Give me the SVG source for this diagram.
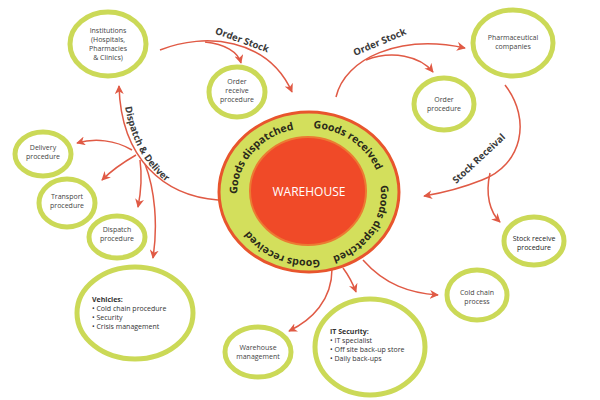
<svg xmlns="http://www.w3.org/2000/svg" width="600" height="400" viewBox="0 0 600 400">
<style>
.node ellipse{fill:#fff;stroke:#cbd957;stroke-width:5}
.t{font-family:"Open Sans","Liberation Sans",sans-serif;font-size:7px;fill:#444;text-anchor:middle}
.tl{font-family:"Open Sans","Liberation Sans",sans-serif;font-size:7px;fill:#333}
.b{font-weight:bold}
.lab{font-family:"Open Sans","Liberation Sans",sans-serif;font-size:9.5px;font-weight:bold;fill:#3a3a3a;text-anchor:middle}
.ring{font-family:"Open Sans","Liberation Sans",sans-serif;font-size:10.5px;font-weight:bold;fill:#2a2a1a}
.c path{fill:none;stroke:#e05a45;stroke-width:1.5;marker-end:url(#ah)}
</style>
<defs>
<marker id="ah" viewBox="0 0 10 10" refX="9" refY="5" markerWidth="9" markerHeight="9" markerUnits="userSpaceOnUse" orient="auto">
<path d="M0,0 L10,5 L0,10 L3,5 z" fill="#e05a45"/>
</marker>
<path id="ringp" d="M 237,194 A 72,66 0 1,1 381,194 A 72,66 0 1,1 237,194"/>
<path id="ddp" d="M 125,107 C 131,140 146,170 173,186"/>
</defs>

<g class="c" id="connectors">
<path d="M160,50 C 205,32 268,38 292,92"/>
<path d="M205,42 C 225,44 238,52 241,63"/>
<path d="M336,97 C 345,58 400,34 465,48"/>
<path d="M366,60 C 392,50 420,56 433,72"/>
<path d="M505,85 C 532,120 522,165 482,180 C 462,188 442,193 424,196"/>
<path d="M490,173 C 485,195 490,212 500,222"/>
<path d="M218,200 C 165,196 121,160 119,86"/>
<path d="M132,150 C 115,140 95,138 77,143"/>
<path d="M136,155 C 122,163 110,172 102,180"/>
<path d="M140,160 C 142,175 141,192 138,207"/>
<path d="M145,164 C 155,190 158,225 153,258"/>
<path d="M332,269 C 332,300 312,320 289,331"/>
<path d="M343,268 C 349,276 353,284 356,292"/>
<path d="M363,260 C 385,285 410,293 438,295"/>
</g>

<g id="labels">
<text class="lab" transform="translate(241,43) rotate(20)">Order Stock</text>
<text class="lab" transform="translate(381,45) rotate(-23)">Order Stock</text>
<text class="lab" transform="translate(481,161) rotate(-43)">Stock Receival</text>
<text class="lab" style="text-anchor:start"><textPath href="#ddp">Dispatch &amp; Deliver</textPath></text>
</g>

<g id="warehouse">
<ellipse cx="309" cy="192" rx="90" ry="80" fill="#d3df5c" stroke="#e8552d" stroke-width="3"/>
<ellipse cx="308" cy="191" rx="58" ry="54" fill="#f04a28" stroke="#ec7a32" stroke-width="2"/>
<text x="309" y="196" style="font-family:'Open Sans','Liberation Sans',sans-serif;font-size:12px;fill:#fff;text-anchor:middle">WAREHOUSE</text>
<text class="ring"><textPath href="#ringp" startOffset="0%">Goods dispatched</textPath></text>
<text class="ring"><textPath href="#ringp" startOffset="26%">Goods received</textPath></text>
<text class="ring"><textPath href="#ringp" startOffset="48%">Goods dispatched</textPath></text>
<text class="ring"><textPath href="#ringp" startOffset="72.5%">Goods received</textPath></text>
</g>

<g class="node" id="institutions"><ellipse cx="108" cy="44" rx="38" ry="32"/>
<text class="t"><tspan x="108" y="33">Institutions</tspan><tspan x="108" y="42">(Hospitals,</tspan><tspan x="108" y="51">Pharmacies</tspan><tspan x="108" y="60">&amp; Clinics)</tspan></text></g>

<g class="node" id="order-receive"><ellipse cx="237" cy="92" rx="28" ry="25"/>
<text class="t"><tspan x="237" y="84">Order</tspan><tspan x="237" y="93">receive</tspan><tspan x="237" y="102">procedure</tspan></text></g>

<g class="node" id="pharma"><ellipse cx="513" cy="43" rx="40" ry="33"/>
<text class="t"><tspan x="513" y="40">Pharmaceutical</tspan><tspan x="513" y="49">companies</tspan></text></g>

<g class="node" id="order-procedure"><ellipse cx="444" cy="104" rx="30" ry="26"/>
<text class="t"><tspan x="444" y="102">Order</tspan><tspan x="444" y="111">procedure</tspan></text></g>

<g class="node" id="delivery"><ellipse cx="43" cy="154" rx="28" ry="22"/>
<text class="t"><tspan x="43" y="150">Delivery</tspan><tspan x="43" y="159">procedure</tspan></text></g>

<g class="node" id="transport"><ellipse cx="67" cy="203" rx="28" ry="24"/>
<text class="t"><tspan x="67" y="199">Transport</tspan><tspan x="67" y="208">procedure</tspan></text></g>

<g class="node" id="dispatch"><ellipse cx="117" cy="237" rx="28" ry="21"/>
<text class="t"><tspan x="117" y="232">Dispatch</tspan><tspan x="117" y="241">procedure</tspan></text></g>

<g class="node" id="vehicles"><ellipse cx="135" cy="313" rx="58" ry="46"/>
<text class="tl"><tspan x="92" y="302" class="b">Vehicles:</tspan><tspan x="92" y="311">• Cold chain procedure</tspan><tspan x="92" y="320">• Security</tspan><tspan x="92" y="329">• Crisis management</tspan></text></g>

<g class="node" id="warehouse-management"><ellipse cx="258" cy="352" rx="33" ry="25"/>
<text class="t"><tspan x="258" y="350">Warehouse</tspan><tspan x="258" y="359">management</tspan></text></g>

<g class="node" id="it-security"><ellipse cx="370" cy="347" rx="55" ry="48"/>
<text class="tl"><tspan x="330" y="334" class="b">IT Security:</tspan><tspan x="330" y="343">• IT specialist</tspan><tspan x="330" y="352">• Off site back-up store</tspan><tspan x="330" y="361">• Daily back-ups</tspan></text></g>

<g class="node" id="cold-chain"><ellipse cx="477" cy="295" rx="30" ry="25"/>
<text class="t"><tspan x="477" y="295">Cold chain</tspan><tspan x="477" y="304">process</tspan></text></g>

<g class="node" id="stock-receive"><ellipse cx="534" cy="241" rx="30" ry="24"/>
<text class="t" style="fill:#222"><tspan x="534" y="241">Stock receive</tspan><tspan x="534" y="250">procedure</tspan></text></g>
</svg>
